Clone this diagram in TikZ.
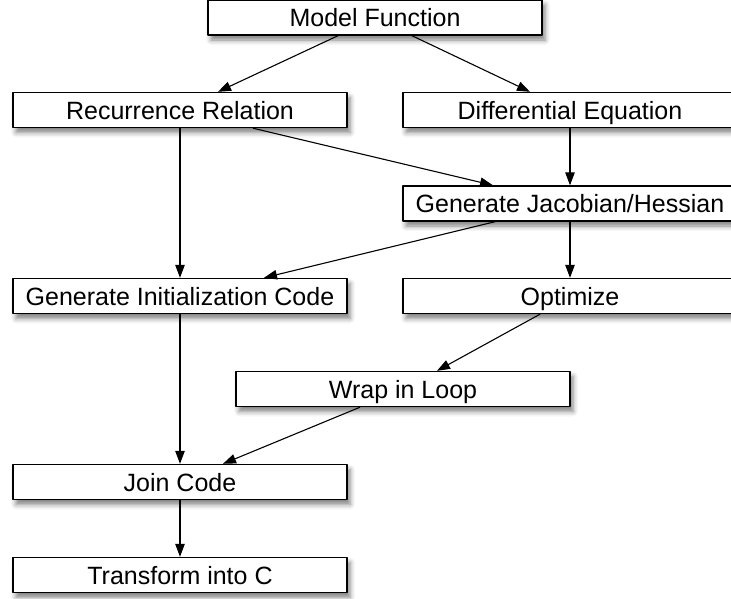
\documentclass[tikz,border=0pt]{standalone}
\usepackage{fontspec}
\newfontfamily\boxfont{Liberation Sans}
\usepackage{tikz}
\usetikzlibrary{arrows.meta,shadows.blur}

\tikzset{
  stepbox/.style={draw, line width=1.4pt, fill=white, inner sep=0pt,
    minimum width=334pt, minimum height=35pt,
    text height=18pt, text depth=0pt,
    font=\boxfont\fontsize{25}{30}\selectfont,
    blur shadow={shadow xshift=3pt, shadow yshift=-5pt,
      shadow blur radius=5pt, shadow opacity=50}},
  flow/.style={->, line width=1.1pt}
}

\begin{document}
\begin{tikzpicture}[x=1pt, y=-1pt, >={Triangle[length=13pt,width=9.5pt]}, line join=round]
\useasboundingbox (0,0) rectangle (731,598);

% Boxes
\node[stepbox] (model) at (375,17.5) {Model Function};
\node[stepbox] (recur) at (180,110) {Recurrence Relation};
\node[stepbox] (diffeq) at (570,110) {Differential Equation};
\node[stepbox] (jacob) at (570,203.5) {Generate Jacobian/Hessian};
\node[stepbox] (init) at (180,296) {Generate Initialization Code};
\node[stepbox] (optim) at (570,296) {Optimize};
\node[stepbox] (loop) at (403,389) {Wrap in Loop};
\node[stepbox] (join) at (180,482) {Join Code};
\node[stepbox] (toc) at (180,575) {Transform into C};

% Frecce
\draw[flow] ([xshift=-37pt]model.south) -- ([xshift=38pt]recur.north);
\draw[flow] ([xshift=37pt]model.south) -- ([xshift=-40pt]diffeq.north);
\draw[flow] (recur.south) -- (init.north);
\draw[flow] ([xshift=73pt]recur.south) -- ([xshift=-77pt]jacob.north);
\draw[flow] (diffeq.south) -- (jacob.north);
\draw[flow] ([xshift=-75pt]jacob.south) -- ([xshift=84pt]init.north);
\draw[flow] (jacob.south) -- (optim.north);
\draw[flow] ([xshift=-30pt]optim.south) -- ([xshift=34pt]loop.north);
\draw[flow] ([xshift=-43pt]loop.south) -- ([xshift=43pt]join.north);
\draw[flow] (init.south) -- (join.north);
\draw[flow] (join.south) -- (toc.north);

\end{tikzpicture}
\end{document}
